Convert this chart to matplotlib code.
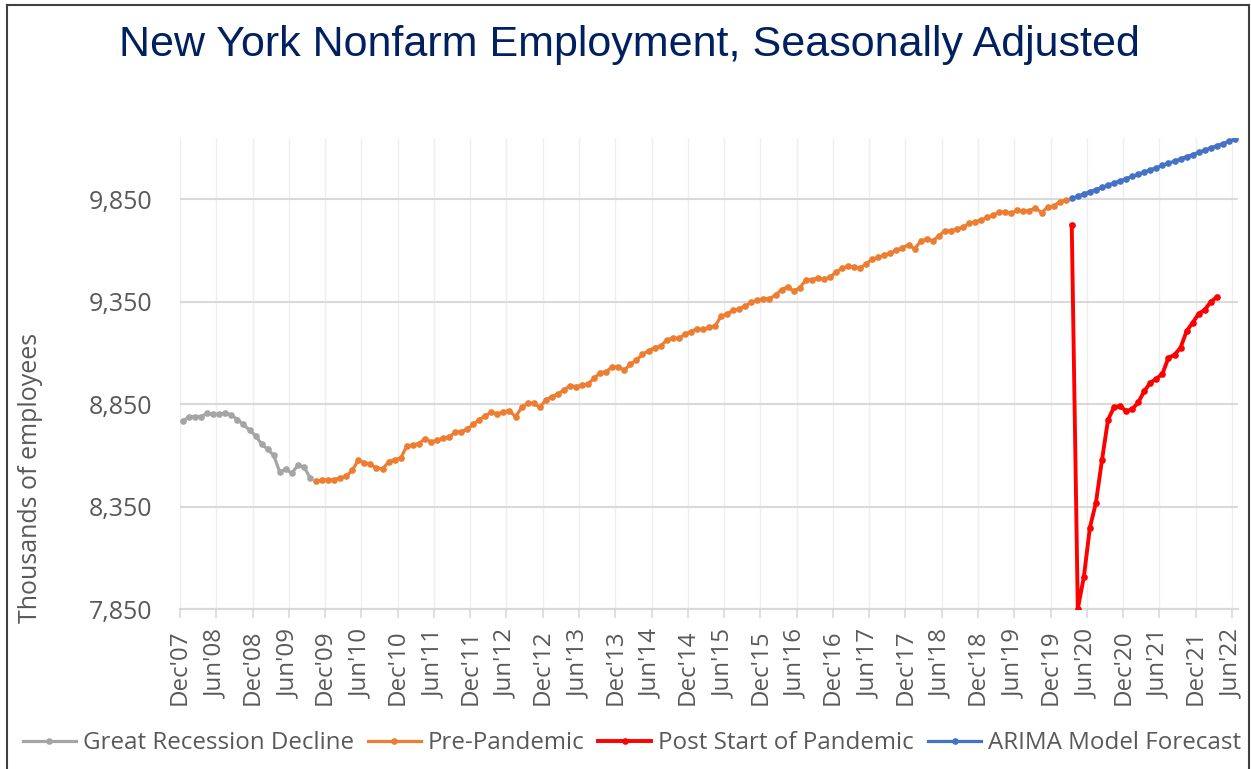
import numpy as np
import matplotlib
matplotlib.use("Agg")
from matplotlib import pyplot as plt
from matplotlib.lines import Line2D

# month index 0 = Dec'07, points sit mid-month
tick_labels = ["Dec'07", "Jun'08", "Dec'08", "Jun'09", "Dec'09", "Jun'10", "Dec'10", "Jun'11",
               "Dec'11", "Jun'12", "Dec'12", "Jun'13", "Dec'13", "Jun'14", "Dec'14", "Jun'15",
               "Dec'15", "Jun'16", "Dec'16", "Jun'17", "Dec'17", "Jun'18", "Dec'18", "Jun'19",
               "Dec'19", "Jun'20", "Dec'20", "Jun'21", "Dec'21", "Jun'22"]

# Great Recession Decline: Dec'07 - Sep'09
recession = [8767, 8790, 8790, 8790, 8805, 8800, 8800, 8808, 8798, 8775, 8751, 8723,
             8697, 8655, 8630, 8600, 8519, 8533, 8513, 8552, 8544, 8492]

# Pre-Pandemic: Oct'09 - Feb'20
pre_pandemic = [8473, 8480, 8480, 8482, 8490, 8498, 8528, 8577, 8564, 8556, 8539, 8534,
                8568, 8580, 8586, 8645, 8651, 8658, 8681, 8666, 8674, 8685, 8690, 8713,
                8716, 8728, 8751, 8775, 8793, 8812, 8803, 8812, 8819, 8788, 8834, 8855,
                8855, 8835, 8871, 8887, 8899, 8920, 8939, 8936, 8943, 8949, 8977, 9004,
                9009, 9033, 9033, 9017, 9045, 9066, 9093, 9111, 9126, 9134, 9163, 9173,
                9171, 9192, 9205, 9218, 9215, 9225, 9231, 9280, 9290, 9309, 9316, 9329,
                9348, 9358, 9366, 9366, 9382, 9410, 9423, 9403, 9418, 9456, 9459, 9466,
                9462, 9469, 9496, 9513, 9524, 9521, 9513, 9537, 9557, 9567, 9578, 9589,
                9602, 9615, 9628, 9609, 9645, 9658, 9648, 9671, 9697, 9697, 9707, 9713,
                9733, 9741, 9749, 9762, 9773, 9788, 9788, 9782, 9798, 9793, 9795, 9808,
                9786, 9811, 9817, 9839, 9847]

# Post Start of Pandemic: Mar'20 - Mar'22
pandemic = [9726, 7851, 8006, 8247, 8369, 8577, 8774, 8836, 8841, 8816, 8826, 8859,
            8914, 8955, 8974, 8999, 9077, 9091, 9126, 9207, 9248, 9292, 9311, 9350, 9373]

# ARIMA Model Forecast: Mar'20 - Jun'22
forecast = [9855, 9866, 9877, 9888, 9898, 9909, 9920, 9930, 9941, 9952, 9962, 9973,
            9984, 9995, 10005, 10016, 10027, 10037, 10048, 10059, 10069, 10080, 10091,
            10102, 10112, 10123, 10134, 10145]

start_recession = 0
start_pre = 22
start_pandemic = 147
start_forecast = 147

FONT = 'Open Sans'
GREY_TXT = '#595959'

fig = plt.figure(figsize=(12.51, 7.69), dpi=100)
ax = fig.add_axes([180/1251, 1 - 609/769, (1238 - 180)/1251, (609 - 138)/769])

def months(start, values):
    return np.arange(start, start + len(values)) + 0.5

series = [
    (start_recession, recession, '#a5a5a5', 2.3, "Great Recession Decline"),
    (start_pre, pre_pandemic, '#ed7d31', 2.3, "Pre-Pandemic"),
    (start_pandemic, pandemic, '#ff0000', 2.8, "Post Start of Pandemic"),
    (start_forecast, forecast, '#4472c4', 2.3, "ARIMA Model Forecast"),
]
for start, vals, col, lw, name in series:
    ax.plot(months(start, vals), vals, color=col, lw=lw, marker='o', ms=4.8,
            markeredgewidth=0, label=name, zorder=3)

ax.set_xlim(0, 175)
ax.set_ylim(7850, 10150)
ax.set_yticks([7850, 8350, 8850, 9350, 9850])
ax.set_yticklabels(['7,850', '8,350', '8,850', '9,350', '9,850'])
ax.set_xticks(np.arange(0, 175, 6))
ax.set_xticklabels(tick_labels, rotation=90)

ax.grid(axis='y', color='#d9d9d9', lw=1.5)
ax.grid(axis='x', color='#eeeeee', lw=1.0)
ax.set_axisbelow(True)
for s in ['top', 'right', 'left']:
    ax.spines[s].set_visible(False)
ax.spines['bottom'].set_color('#d9d9d9')
ax.spines['bottom'].set_linewidth(1.5)
ax.tick_params(axis='y', length=0, pad=20, labelsize=18, labelcolor=GREY_TXT)
ax.tick_params(axis='x', length=6.5, color='#d9d9d9', width=1.2, pad=8,
               labelsize=17.4, labelcolor=GREY_TXT)
for lab in ax.get_xticklabels() + ax.get_yticklabels():
    lab.set_family(FONT)

ax.set_ylabel('Thousands of employees', fontsize=18, color=GREY_TXT, family=FONT)
ax.yaxis.set_label_coords(-137/1058, (609 - 478)/471)

fig.text(0.503, 1 - 45/769, 'New York Nonfarm Employment, Seasonally Adjusted',
         ha='center', va='center', fontsize=31, color='#002060',
         family='Liberation Sans')

fig.legend(loc='center', bbox_to_anchor=(632/1251, 1 - 743/769), ncol=4, frameon=False,
           prop={'family': FONT, 'size': 17.4}, labelcolor=GREY_TXT,
           handlelength=2.19, handletextpad=0.29, columnspacing=0.58, borderaxespad=0)

# outer chart border
for xs, ys in [([7, 7], [5, 775]), ([7, 1249], [5, 5]), ([1249, 1249], [5, 775])]:
    fig.add_artist(Line2D([x/1251 for x in xs], [1 - y/769 for y in ys],
                          color='#404040', lw=1.5))

fig.savefig('out.png', dpi=100)
